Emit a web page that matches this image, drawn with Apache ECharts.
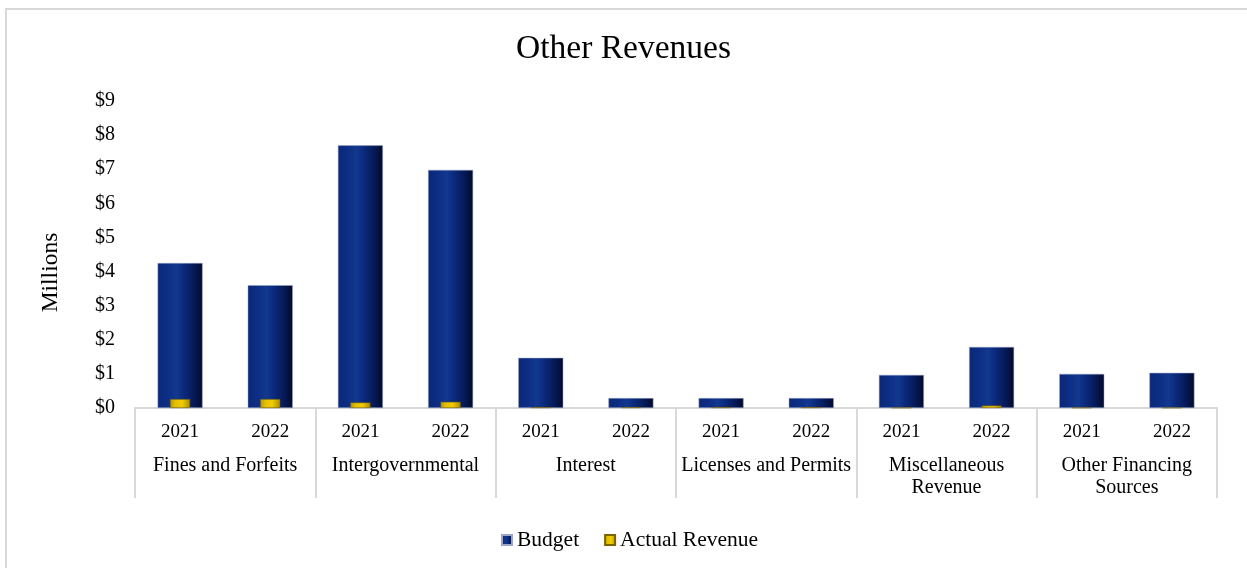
<!DOCTYPE html>
<html>
<head>
<meta charset="utf-8">
<title>Other Revenues</title>
<script src="https://cdn.jsdelivr.net/npm/echarts@6/dist/echarts.min.js"></script>
<style>
  html, body { margin: 0; padding: 0; background: #ffffff; }
  #frame {
    position: absolute; left: 5px; top: 8px; width: 1260px; height: 580px;
    border: 2px solid #d9d9d9; box-sizing: border-box;
  }
  #chart { position: absolute; left: 0; top: 0; width: 1247px; height: 568px; }
</style>
</head>
<body>
<div id="frame"></div>
<div id="chart"></div>
<script>
// Revenue groups and fiscal years (two-level category axis)
const groups = [
  'Fines and Forfeits',
  'Intergovernmental',
  'Interest',
  'Licenses and Permits',
  'Miscellaneous\nRevenue',
  'Other Financing\nSources'
];
const years = ['2021', '2022'];

// Values in millions of dollars, one entry per group/year pair
const budget = [4.25, 3.60, 7.70, 6.98, 1.47, 0.29, 0.29, 0.29, 0.97, 1.79, 1.00, 1.03];
const actualRevenue = [0.26, 0.26, 0.16, 0.18, 0.02, 0.02, 0.02, 0.02, 0.01, 0.07, 0.01, 0.01];

// y axis ticks ($ millions)
const yTicks = { min: 0, max: 9, interval: 1 };

const yearCategories = [];
groups.forEach(() => years.forEach(y => yearCategories.push(y)));

const serif = '"Liberation Serif", "Times New Roman", serif';
const axisGray = '#d9d9d9';

const budgetFill = new echarts.graphic.LinearGradient(0, 0, 1, 0, [
  { offset: 0, color: '#0b2877' },
  { offset: 0.2, color: '#0d2d84' },
  { offset: 0.42, color: '#12388f' },
  { offset: 0.55, color: '#0c2c80' },
  { offset: 0.8, color: '#061a58' },
  { offset: 1, color: '#020a2a' }
]);
const actualFill = new echarts.graphic.LinearGradient(0, 0, 1, 0, [
  { offset: 0, color: '#b89600' },
  { offset: 0.25, color: '#e2bf00' },
  { offset: 0.6, color: '#f2cc00' },
  { offset: 1, color: '#a88800' }
]);

const chart = echarts.init(document.getElementById('chart'), null, { renderer: 'canvas' });

chart.setOption({
  backgroundColor: 'transparent',
  animation: false,
  title: {
    text: 'Other Revenues',
    left: 'center',
    top: 27,
    textStyle: { fontFamily: serif, fontSize: 33.5, fontWeight: 'normal', color: '#000000' }
  },
  legend: {
    bottom: 12,
    left: 496,
    itemWidth: 10,
    itemHeight: 10,
    itemGap: 25,
    icon: 'rect',
    textStyle: { fontFamily: serif, fontSize: 21.5, color: '#000000', padding: [0, 0, 0, 0] },
    data: ['Budget', 'Actual Revenue']
  },
  grid: { left: 135, right: 30, top: 101, bottom: 160 },
  xAxis: [
    {
      type: 'category',
      data: yearCategories,
      position: 'bottom',
      axisLine: { show: true, lineStyle: { color: axisGray, width: 2 } },
      axisTick: { show: false },
      axisLabel: { margin: 15, fontFamily: serif, fontSize: 19, color: '#000000', interval: 0 }
    },
    {
      type: 'category',
      data: groups,
      position: 'bottom',
      axisLine: { show: false },
      axisTick: { show: true, length: 90, lineStyle: { color: axisGray, width: 2 } },
      axisLabel: {
        margin: 47, fontFamily: serif, fontSize: 20, color: '#000000',
        interval: 0, lineHeight: 22
      }
    },
    {
      type: 'category',
      data: yearCategories,
      show: false
    }
  ],
  yAxis: {
    type: 'value',
    min: yTicks.min,
    max: yTicks.max,
    interval: yTicks.interval,
    name: 'Millions',
    nameLocation: 'middle',
    nameGap: 72,
    nameRotate: 90,
    nameTextStyle: { fontFamily: serif, fontSize: 23.5, color: '#000000', padding: [0, 36, 0, 0] },
    axisLine: { show: false },
    axisTick: { show: false },
    splitLine: { show: false },
    axisLabel: {
      margin: 20, fontFamily: serif, fontSize: 20, color: '#000000',
      formatter: v => '$' + v
    }
  },
  series: [
    {
      name: 'Budget',
      type: 'bar',
      xAxisIndex: 0,
      data: budget,
      barWidth: 45,
      itemStyle: { color: budgetFill, borderColor: '#9aa6c4', borderWidth: 0.5 }
    },
    {
      name: 'Actual Revenue',
      type: 'bar',
      xAxisIndex: 2,
      data: actualRevenue,
      barWidth: 20,
      itemStyle: { color: actualFill, borderColor: '#7a6300', borderWidth: 0.5 }
    }
  ]
});
</script>
</body>
</html>
